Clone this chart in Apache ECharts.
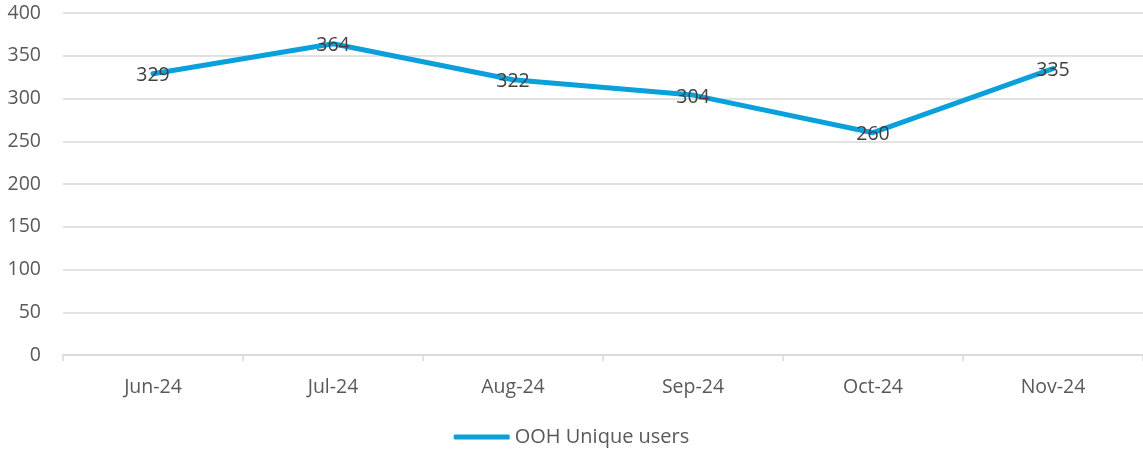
<!DOCTYPE html>
<html><head><meta charset="utf-8">
<script src="https://cdn.jsdelivr.net/npm/echarts@6/dist/echarts.min.js"></script>
<style>html,body{margin:0;padding:0;background:#fff}#c{width:1143px;height:453px}</style>
</head><body><div id="c"></div>
<script>
const categories = ["Jun-24","Jul-24","Aug-24","Sep-24","Oct-24","Nov-24"];
const seriesName = "OOH Unique users";
const values = [329, 364, 322, 304, 260, 335];
const yTicks = {min: 0, max: 400, interval: 50};

const font = "'Open Sans', sans-serif";
const chart = echarts.init(document.getElementById('c'));
chart.setOption({
  animation: false,
  textStyle: {fontFamily: font},
  grid: {left: 63, right: 0, top: 13, bottom: 98, containLabel: false},
  legend: {
    bottom: 1, left: 'center',
    itemWidth: 56, itemHeight: 5, itemGap: 4,
    textStyle: {fontFamily: font, fontSize: 20, color: '#595959'},
    data: [{name: seriesName, icon: 'roundRect'}]
  },
  xAxis: {
    type: 'category', data: categories, boundaryGap: true,
    axisLine: {lineStyle: {color: '#d9d9d9', width: 1.5}},
    axisTick: {show: true, alignWithLabel: false, length: 6, lineStyle: {color: '#d9d9d9', width: 1.5}},
    axisLabel: {fontFamily: font, fontSize: 19.5, color: '#595959', margin: 22}
  },
  yAxis: {
    type: 'value', min: yTicks.min, max: yTicks.max, interval: yTicks.interval,
    axisLine: {show: false}, axisTick: {show: false},
    splitLine: {lineStyle: {color: '#d9d9d9', width: 1.5}},
    axisLabel: {fontFamily: font, fontSize: 19.5, color: '#595959', margin: 22}
  },
  series: [{
    name: seriesName, type: 'line', data: values,
    symbol: 'circle', symbolSize: 0.1, showSymbol: true, smooth: false,
    lineStyle: {color: '#0aa0dc', width: 5, cap: 'round', join: 'round'},
    itemStyle: {color: '#0aa0dc'},
    label: {show: true, position: [0, 0], align: 'center', verticalAlign: 'middle', fontFamily: font, fontSize: 19.5, color: '#404040', offset: [0, 2]}
  }]
});
</script></body></html>
